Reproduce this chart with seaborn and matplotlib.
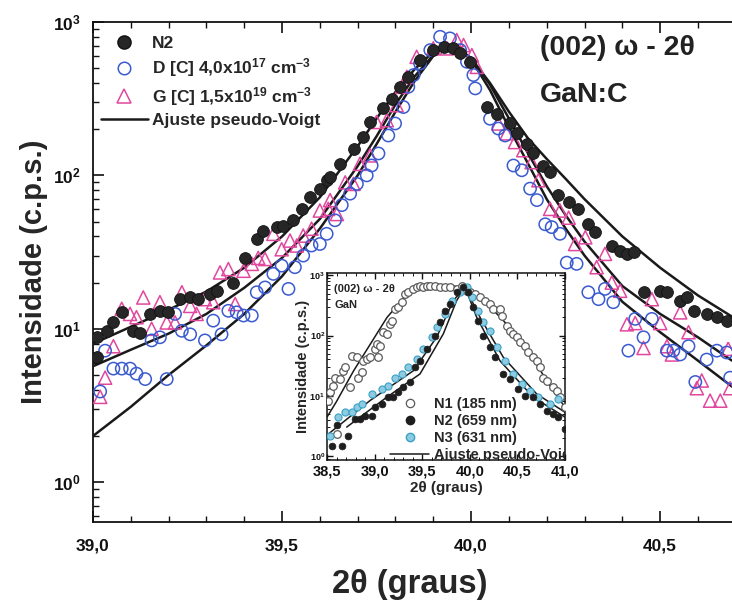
import numpy as np
import pandas as pd
import matplotlib
matplotlib.use("Agg")
import matplotlib.pyplot as plt
import seaborn as sns
from matplotlib import ticker
from matplotlib.lines import Line2D

sns.set_theme(style="ticks")
plt.rcParams['font.family'] = ['Liberation Sans', 'DejaVu Sans']
plt.rcParams['font.weight'] = 'bold'
plt.rcParams['mathtext.fontset'] = 'custom'
plt.rcParams['mathtext.rm'] = 'Liberation Sans:bold'
plt.rcParams['mathtext.it'] = 'Liberation Sans:bold'
plt.rcParams['mathtext.bf'] = 'Liberation Sans:bold'
plt.rcParams['mathtext.default'] = 'rm'

# ---- main chart data ----
n2_x = [39.01, 39.01, 39.036, 39.054, 39.076, 39.107, 39.124, 39.151, 39.177, 39.199,
        39.23, 39.257, 39.279, 39.31, 39.327, 39.371, 39.402, 39.433, 39.45, 39.486,
        39.503, 39.53, 39.552, 39.574, 39.60, 39.62, 39.627, 39.653, 39.689, 39.715,
        39.733, 39.768, 39.79, 39.812, 39.834, 39.865, 39.90, 39.927, 39.953, 39.971,
        39.997, 40.041, 40.068, 40.103, 40.121, 40.147, 40.165, 40.191, 40.209, 40.231,
        40.258, 40.284, 40.31, 40.328, 40.372, 40.394, 40.412, 40.43, 40.456, 40.50,
        40.518, 40.553, 40.571, 40.589, 40.623, 40.65, 40.676]
n2_y = [8.8, 6.5, 9.7, 11.0, 12.8, 9.7, 9.4, 12.5, 13.1, 12.8,
        15.6, 16.0, 15.6, 16.9, 17.7, 20, 29, 38.5, 43.7, 46,
        47, 51, 60.5, 72, 82, 93, 97.5, 119, 149, 178,
        223, 273, 316, 378, 439, 565, 656, 690, 673, 624,
        550, 279, 251, 218, 188, 161, 139, 116, 105, 74,
        67, 60.5, 48, 42.6, 34.9, 32.3, 30.8, 31.7, 17.3, 17.7,
        17.3, 15.2, 16.0, 13.1, 12.5, 11.9, 11.3]

d_x = [39.019, 39.032, 39.054, 39.076, 39.098, 39.115, 39.138, 39.195, 39.155, 39.177,
       39.217, 39.235, 39.257, 39.296, 39.318, 39.34, 39.358, 39.38, 39.398, 39.42,
       39.433, 39.455, 39.477, 39.499, 39.517, 39.534, 39.556, 39.578, 39.60, 39.618,
       39.64, 39.658, 39.68, 39.698, 39.724, 39.737, 39.755, 39.781, 39.799, 39.821,
       39.834, 39.848, 39.865, 39.892, 39.918, 39.944, 39.971, 39.989, 40.006, 40.011,
       40.05, 40.072, 40.09, 40.112, 40.134, 40.156, 40.174, 40.196, 40.213, 40.235,
       40.253, 40.279, 40.31, 40.337, 40.354, 40.376, 40.434, 40.456, 40.416, 40.478,
       40.518, 40.535, 40.553, 40.575, 40.593, 40.623, 40.65, 40.676, 40.685]
d_y = [3.9, 7.2, 5.5, 5.5, 5.5, 5.1, 4.7, 4.7, 8.4, 8.8,
       12.5, 9.7, 9.2, 8.4, 11.3, 9.2, 13.1, 12.8, 12.2, 12.2,
       17.3, 18.6, 22.8, 25.8, 18.2, 25.2, 30, 34.9, 35.7, 41.6,
       51, 64, 76, 88, 100, 116, 139, 182, 218, 279,
       378, 451, 537, 656, 801, 782, 656, 550, 451, 369,
       234, 202, 182, 116, 108, 82, 69, 48, 46, 41.6,
       27, 26.5, 17.3, 15.6, 18.2, 14.9, 11.6, 8.8, 7.2, 11.6,
       7.2, 7.2, 6.8, 7.7, 4.5, 6.3, 7.2, 7.0, 4.8]

g_x = [39.019, 39.032, 39.054, 39.076, 39.098, 39.115, 39.133, 39.155, 39.177, 39.195,
       39.217, 39.235, 39.257, 39.274, 39.296, 39.318, 39.336, 39.358, 39.376, 39.398,
       39.42, 39.437, 39.455, 39.477, 39.499, 39.521, 39.539, 39.556, 39.578, 39.60,
       39.622, 39.627, 39.645, 39.667, 39.689, 39.706, 39.733, 39.75, 39.777, 39.803,
       39.817, 39.83, 39.856, 39.90, 39.936, 39.962, 39.98, 40.002, 40.015, 40.072,
       40.094, 40.116, 40.138, 40.16, 40.178, 40.209, 40.235, 40.258, 40.275, 40.302,
       40.332, 40.354, 40.372, 40.394, 40.412, 40.434, 40.456, 40.478, 40.50, 40.518,
       40.531, 40.553, 40.575, 40.597, 40.61, 40.632, 40.659, 40.68, 40.685]
g_y = [3.6, 4.8, 7.7, 13.5, 12.5, 11.9, 16, 10, 14.9, 11,
       11, 17.3, 14.1, 12.5, 15.6, 14.9, 23.3, 24.5, 14.5, 23.9,
       26.5, 29, 28.5, 41.6, 33, 37.6, 34.9, 40.5, 44.9, 59,
       60.5, 69, 56, 90, 88, 119, 135, 223, 229, 287,
       378, 439, 593, 673, 673, 762, 707, 608, 510, 218,
       188, 165, 146, 122, 93, 60.5, 59, 53, 35.7, 39.5,
       25.2, 30.8, 20, 17.7, 10.7, 10.9, 7.5, 15.6, 10.9, 7.7,
       6.8, 12.8, 9.5, 4.1, 4.6, 3.4, 3.4, 7.4, 4.1]

fit_x = [39.00, 39.10, 39.20, 39.30, 39.40, 39.50, 39.60, 39.70, 39.75, 39.80,
         39.85, 39.90, 39.93, 39.96, 40.00, 40.05, 40.10, 40.15, 40.20, 40.25,
         40.30, 40.40, 40.50, 40.60, 40.69]
fit_n2 = [8.0, 10.3, 13.3, 17.5, 25, 40, 72, 155, 235, 350,
          490, 640, 710, 690, 580, 400, 260, 175, 128, 95,
          70, 40, 25, 16.5, 12]
fit_g = [5.7, 7.3, 9.3, 12.5, 18.5, 29, 52, 115, 180, 290,
         440, 610, 700, 690, 580, 390, 235, 140, 85, 55,
         37, 19, 12.5, 8.8, 6.2]
fit_d = [2.0, 3.1, 5.0, 7.8, 12.5, 22, 45, 100, 160, 260,
         410, 600, 705, 695, 570, 360, 205, 120, 70, 45,
         30, 15, 9.5, 6.2, 4.2]

# ---- inset data ----
in_n1_x = [38.514, 38.53, 38.567, 38.584, 38.602, 38.637, 38.672, 38.689, 38.742, 38.759,
           38.812, 38.829, 38.864, 38.882, 38.917, 38.952, 39.004, 39.022, 39.039, 39.057,
           39.092, 39.127, 39.162, 39.179, 39.214, 39.249, 39.284, 39.319, 39.354, 39.407,
           39.442, 39.477, 39.512, 39.547, 39.582, 39.634, 39.687, 39.739, 39.792, 39.862,
           39.915, 39.967, 40.002, 40.055, 40.107, 40.16, 40.212, 40.247, 40.317, 40.335,
           40.387, 40.422, 40.457, 40.492, 40.527, 40.58, 40.615, 40.667, 40.702, 40.737,
           40.772, 40.807, 40.877, 40.912, 40.947, 41.0]
in_n1_y = [8.3, 11.4, 14.7, 20, 2.3, 19, 26, 30, 13.8, 46,
           43.5, 20, 24.5, 38, 41, 43.5, 60, 73, 43.5, 68,
           114, 107, 156, 178, 278, 296, 360, 495, 527, 600,
           640, 681, 640, 681, 681, 656, 640, 640, 640, 600,
           681, 562, 527, 495, 435, 383, 337, 278, 278, 215,
           147, 121, 107, 94, 77, 68, 53, 43.5, 38, 30,
           20, 17.8, 13.8, 12.1, 9.4, 6.4]
in_n2_x = [38.549, 38.654, 38.602, 38.724, 38.794, 38.847, 38.899, 38.969, 39.004, 39.074,
           39.144, 39.197, 39.249, 39.302, 39.372, 39.424, 39.477, 39.547, 39.634, 39.687,
           39.739, 39.792, 39.862, 39.932, 39.985, 40.037, 40.09, 40.142, 40.212, 40.265,
           40.352, 40.422, 40.51, 40.58, 40.667, 40.737, 40.807, 40.877, 40.93, 41.0]
in_n2_y = [1.47, 1.47, 3.2, 2.15, 4.1, 4.1, 4.6, 4.6, 6.4, 7.3,
           9.4, 9.4, 11.4, 13.8, 16.7, 30, 38, 60, 100, 167,
           261, 337, 527, 640, 527, 296, 178, 100, 64, 43.5,
           23, 19, 12.9, 10, 9.4, 7.3, 5.6, 4.9, 4.4, 2.8]
in_n3_x = [38.532, 38.619, 38.689, 38.759, 38.812, 38.864, 38.969, 39.074, 39.144, 39.214,
           39.284, 39.354, 39.442, 39.512, 39.599, 39.652, 39.739, 39.81, 39.897, 39.967,
           40.02, 40.09, 40.142, 40.212, 40.282, 40.37, 40.457, 40.545, 40.632, 40.72,
           40.842, 40.93]
in_n3_y = [2.15, 4.4, 5.3, 5.3, 6.4, 7.3, 10.7, 12.9, 14.7, 20,
           23, 30, 41, 60, 94, 138, 230, 383, 527, 640,
           435, 261, 167, 121, 64, 38, 23, 15.6, 12.1, 9.4,
           7.3, 8.8]

in_fit_n1_x = [38.50, 38.60, 38.78, 38.95, 39.13, 39.37, 39.55, 39.75, 39.95, 40.18,
               40.35, 40.53, 40.70, 40.88, 41.00]
in_fit_n1_y = [4.4, 8, 26, 70, 200, 560, 690, 700, 620, 340,
               180, 83, 33, 12, 6.4]
in_fit_n3_x = [38.514, 38.952, 39.407, 39.652, 39.827, 39.95, 40.107, 40.352, 40.702, 41.0]
in_fit_n3_y = [2.3, 8.3, 26, 94, 383, 640, 202, 43.5, 10.7, 5.3]
in_fit_n2_x = [38.707, 39.127, 39.477, 39.722, 39.862, 39.95, 40.072, 40.317, 40.667, 41.0]
in_fit_n2_y = [3.0, 9.4, 23, 107, 383, 640, 202, 38, 9.4, 4.4]

BLUE = '#3a5ad0'
MAGENTA = '#e2479e'
BLACK = '#262626'
TEAL = '#3aa0c6'

W, H = 732, 604
fig = plt.figure(figsize=(W / 100, H / 100), dpi=100)
ax = fig.add_axes([93 / W, 1 - 522 / H, (W - 93) / W, 500 / H])

fits = [fit_n2, fit_g, fit_d]
for fy in fits:
    sns.lineplot(x=fit_x, y=fy, ax=ax, color='#1a1a1a', lw=1.8,
                 estimator=None, sort=False, zorder=3)

sns.scatterplot(x=g_x, y=g_y, ax=ax, marker='^', s=90, facecolor='none',
                edgecolor=MAGENTA, linewidth=1.1, zorder=4)
sns.scatterplot(x=d_x, y=d_y, ax=ax, marker='o', s=78, facecolor='none',
                edgecolor=BLUE, linewidth=1.1, zorder=4)
sns.scatterplot(x=n2_x, y=n2_y, ax=ax, marker='o', s=72, color=BLACK,
                edgecolor='#111111', linewidth=0.6, zorder=5)

ax.set_yscale('log')
ax.set_xlim(39.0, 40.69)
ax.set_ylim(0.55, 1000)
ax.xaxis.set_major_locator(ticker.MultipleLocator(0.5))
ax.xaxis.set_minor_locator(ticker.MultipleLocator(0.1))
ax.xaxis.set_major_formatter(ticker.FuncFormatter(lambda v, p: f"{v:.1f}".replace('.', ',')))
ax.yaxis.set_major_locator(ticker.LogLocator(base=10, numticks=10))
ax.yaxis.set_minor_locator(ticker.LogLocator(base=10, subs=np.arange(2, 10), numticks=10))
ax.yaxis.set_major_formatter(ticker.FuncFormatter(lambda v, p: r'$10^{%d}$' % round(np.log10(v))))
ax.yaxis.set_minor_formatter(ticker.NullFormatter())
ax.tick_params(which='both', direction='in', top=True, right=False, colors='#111111')
ax.tick_params(which='major', length=8, width=1.2, labelsize=12.5, pad=9)
ax.tick_params(axis='x', which='major', pad=12)
ax.tick_params(which='minor', length=4.5, width=1.0)
for lab in ax.get_xticklabels() + ax.get_yticklabels():
    lab.set_fontweight('bold')
for side in ['left', 'bottom', 'top']:
    ax.spines[side].set_linewidth(1.3)
    ax.spines[side].set_color('#111111')
ax.spines['right'].set_visible(False)

ax.set_xlabel('2θ (graus)', fontsize=23.5, fontweight='bold')
ax.set_ylabel('Intensidade (c.p.s.)', fontsize=21, fontweight='bold')
ax.xaxis.set_label_coords((410 - 93) / 639, -0.093)
ax.yaxis.set_label_coords(-0.071, 0.5)

handles = [
    Line2D([], [], marker='o', ls='none', ms=9.5, mfc=BLACK, mec='#111111'),
    Line2D([], [], marker='o', ls='none', ms=9, mfc='none', mec=BLUE, mew=1.1),
    Line2D([], [], marker='^', ls='none', ms=9.5, mfc='none', mec=MAGENTA, mew=1.1),
    Line2D([], [], color='#1a1a1a', lw=1.8),
]
labels = ['N2', r'D [C] 4,0x10$^{17}$ cm$^{-3}$', r'G [C] 1,5x10$^{19}$ cm$^{-3}$',
          'Ajuste pseudo-Voigt']
ax.legend(handles, labels, loc='upper left', bbox_to_anchor=(-0.007, 0.997), frameon=False,
          prop={'size': 12.5, 'weight': 'bold'}, handlelength=2.7, handletextpad=0.25,
          labelspacing=0.32, borderpad=0.5, borderaxespad=0.2)

ax.text(0.70, 0.948, '(002) ω - 2θ', transform=ax.transAxes, fontsize=20.5,
        fontweight='bold', va='center', ha='left', color='#222222')
ax.text(0.70, 0.855, 'GaN:C', transform=ax.transAxes, fontsize=20.5,
        fontweight='bold', va='center', ha='left', color='#222222')

# ---- inset ----
ax2 = fig.add_axes([327 / W, 1 - 460 / H, 238 / W, 187 / H], zorder=10)
ax2.set_facecolor('white')
for fx, fy in [(in_fit_n1_x, in_fit_n1_y), (in_fit_n3_x, in_fit_n3_y), (in_fit_n2_x, in_fit_n2_y)]:
    sns.lineplot(x=fx, y=fy, ax=ax2, color='#1a1a1a', lw=1.1, estimator=None,
                 sort=False, zorder=3)
sns.scatterplot(x=in_n1_x, y=in_n1_y, ax=ax2, marker='o', s=30, facecolor='white',
                edgecolor='#5a5a5a', linewidth=0.9, zorder=4)
sns.scatterplot(x=in_n3_x, y=in_n3_y, ax=ax2, marker='o', s=26, color='#8ccbe0',
                edgecolor=TEAL, linewidth=0.8, zorder=4)
sns.scatterplot(x=in_n2_x, y=in_n2_y, ax=ax2, marker='o', s=24, color='#1e1e1e',
                edgecolor='#1e1e1e', linewidth=0.5, zorder=5)
ax2.set_yscale('log')
ax2.set_xlim(38.5, 41.0)
ax2.set_ylim(0.85, 1100)
ax2.xaxis.set_major_locator(ticker.MultipleLocator(0.5))
ax2.xaxis.set_minor_locator(ticker.MultipleLocator(0.1))
ax2.xaxis.set_major_formatter(ticker.FuncFormatter(lambda v, p: f"{v:.1f}".replace('.', ',')))
ax2.yaxis.set_major_locator(ticker.LogLocator(base=10, numticks=10))
ax2.yaxis.set_minor_locator(ticker.LogLocator(base=10, subs=np.arange(2, 10), numticks=10))
ax2.yaxis.set_major_formatter(ticker.FuncFormatter(lambda v, p: r'$10^{%d}$' % round(np.log10(v))))
ax2.yaxis.set_minor_formatter(ticker.NullFormatter())
ax2.tick_params(which='both', direction='in', top=True, right=True, colors='#111111')
ax2.tick_params(which='major', length=4, width=1.0, pad=3)
ax2.tick_params(axis='x', which='major', labelsize=10.5, pad=3)
ax2.tick_params(axis='y', which='major', labelsize=6.5, pad=1.5)
ax2.tick_params(which='minor', length=2, width=0.7)
for lab in ax2.get_xticklabels() + ax2.get_yticklabels():
    lab.set_fontweight('bold')
for side in ax2.spines.values():
    side.set_linewidth(1.1)
    side.set_color('#111111')
ax2.set_xlabel('2θ (graus)', fontsize=11, fontweight='bold', labelpad=2)
ax2.set_ylabel('Intensidade (c.p.s.)', fontsize=10.5, fontweight='bold')
ax2.yaxis.set_label_coords((310 - 327) / 238, 0.5)
ax2.text(0.03, 0.915, '(002) ω - 2θ', transform=ax2.transAxes, fontsize=8,
         fontweight='bold', va='center', color='#222222')
ax2.text(0.03, 0.83, 'GaN', transform=ax2.transAxes, fontsize=8,
         fontweight='bold', va='center', color='#222222')
h2 = [
    Line2D([], [], marker='o', ls='none', ms=6, mfc='white', mec='#5a5a5a', mew=0.9),
    Line2D([], [], marker='o', ls='none', ms=6, mfc='#1e1e1e', mec='#1e1e1e'),
    Line2D([], [], marker='o', ls='none', ms=6, mfc='#8ccbe0', mec=TEAL),
    Line2D([], [], color='#1a1a1a', lw=1.1),
]
l2 = ['N1 (185 nm)', 'N2 (659 nm)', 'N3 (631 nm)', 'Ajuste pseudo-Voigt']
leg2 = ax2.legend(h2, l2, loc='lower left', bbox_to_anchor=(0.265, -0.01), frameon=False,
                  prop={'size': 10.5, 'weight': 'bold'}, handlelength=2.7, handletextpad=0.3,
                  labelspacing=0.2, borderpad=0.0, borderaxespad=0.0)
for t in leg2.get_texts():
    t.set_clip_box(ax2.bbox)
    t.set_clip_on(True)

fig.savefig('out.png', dpi=100)
